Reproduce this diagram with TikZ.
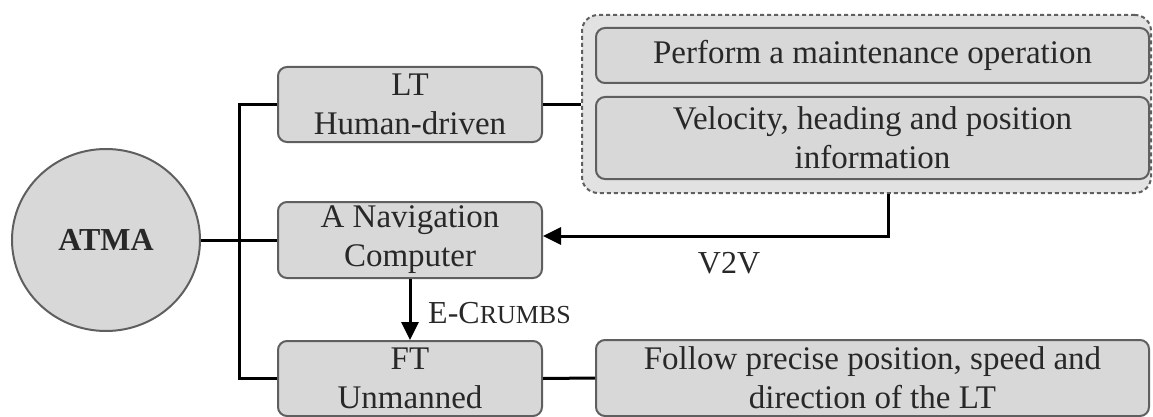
\documentclass[tikz,border=0pt]{standalone}
\usepackage{fontspec}
\setmainfont{Liberation Serif}
\usetikzlibrary{arrows.meta,shapes.geometric}
\definecolor{boxfill}{RGB}{216,216,216}
\definecolor{grpfill}{RGB}{226,226,226}
\definecolor{boxline}{RGB}{95,95,95}
\definecolor{txt}{RGB}{40,40,40}
\tikzset{
  box/.style={draw=boxline, line width=2pt, fill=boxfill, rounded corners=9pt,
    inner sep=0pt, align=center, text=txt, font=\fontsize{33}{39}\selectfont},
  grpbox/.style={draw=boxline, line width=2pt, dash pattern=on 4pt off 3pt,
    fill=grpfill, rounded corners=16pt, inner sep=0pt},
  conn/.style={line width=3pt, draw=black},
  arr/.style={conn, -{Triangle[length=18pt,width=17pt]}},
  lbl/.style={text=txt, inner sep=0pt, font=\fontsize{32}{38}\selectfont}
}
\begin{document}
\begin{tikzpicture}[x=1pt,y=-1pt]
\useasboundingbox (0,0) rectangle (1153,417);
% group
\node[grpbox, minimum width=569pt, minimum height=178pt] (grp) at (866.5,104) {};
% nodes
\node[draw=boxline, line width=2pt, fill=boxfill, ellipse, minimum width=188pt,
  minimum height=182pt, inner sep=0pt, text=txt,
  font=\fontsize{32}{38}\selectfont\bfseries] (atma) at (106,240) {ATMA};
\node[box, minimum width=264pt, minimum height=75pt] (lt) at (410,104.5) {LT\\Human-driven};
\node[box, minimum width=264pt, minimum height=76pt] (nav) at (410,240) {A Navigation\\Computer};
\node[box, minimum width=264pt, minimum height=75pt] (ft) at (410,378.5) {FT\\Unmanned};
\node[box, minimum width=553pt, minimum height=55pt] (b1) at (872.5,55.5) {Perform a maintenance operation};
\node[box, minimum width=553pt, minimum height=82pt] (b2) at (872.5,138) {Velocity, heading and position\\information};
\node[box, minimum width=553pt, minimum height=76pt] (fol) at (872.5,378) {Follow precise position, speed and\\direction of the LT};
% coordinates
\coordinate (bus) at (239,0);
\coordinate (v) at (888,0);
% connectors
\draw[conn] (lt.west) -- (lt.west -| bus) |- (ft.west);
\draw[conn] (atma.east) -- (nav.west);
\draw[conn] (lt.east) -- (lt.east -| grp.west);
\draw[conn] (ft.east) -- (fol.west);
\draw[arr] (grp.south -| v) |- ([yshift=4pt]nav.east);
\draw[arr] (nav.south) -- (ft.north);
% labels
\node[lbl, anchor=west] (ecl) at (428,313) {E-C{\fontsize{26}{30}\selectfont RUMBS}};
\node[lbl] (v2v) at (729,263) {V2V};
\end{tikzpicture}
\end{document}
